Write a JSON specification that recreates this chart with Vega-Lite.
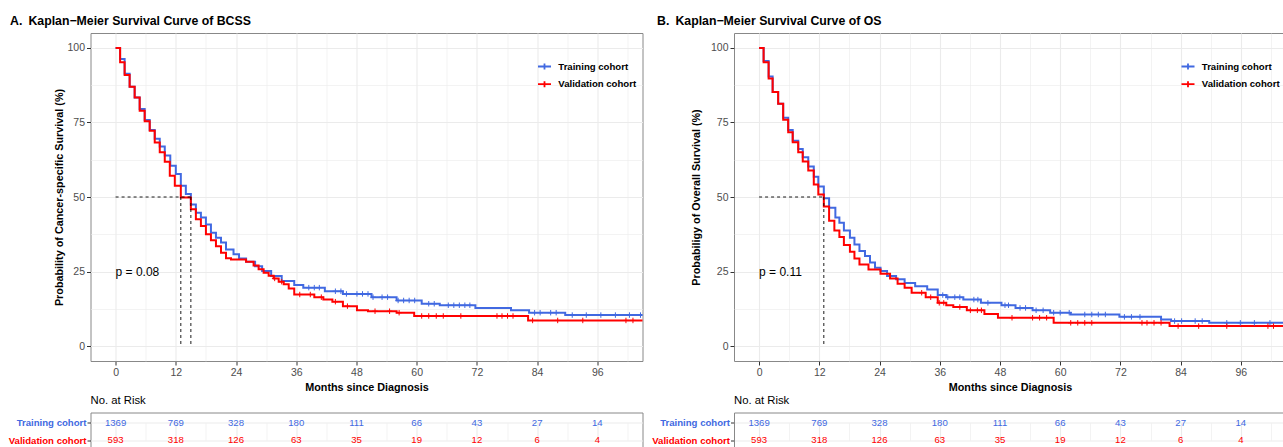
{
"$schema": "https://vega.github.io/schema/vega-lite/v6.json",
"background": "white",
"padding": {"left": 7.5, "top": 14, "right": 0, "bottom": 0},
"config": {
  "font": "Liberation Sans",
  "view": {"stroke": "#888888", "strokeWidth": 1},
  "axis": {"labelFont": "Liberation Sans", "labelFontSize": 10.5, "labelColor": "#4D4D4D", "titleFont": "Liberation Sans", "titleFontSize": 10.8, "titleFontWeight": "bold", "titleColor": "#000000", "tickColor": "#333333", "tickSize": 4, "labelPadding": 2, "domain": false, "gridColor": "#EBEBEB"},
  "title": {"font": "Liberation Sans", "fontSize": 12.3, "fontWeight": "bold", "color": "#000000"},
  "legend": {"labelFont": "Liberation Sans", "labelFontSize": 9.6, "labelFontWeight": "bold", "labelColor": "#000000", "padding": 0, "rowPadding": 2.7, "labelOffset": 6.3}
},
"datasets": {
  "curves": [
    {"p":"A","c":"Training cohort","t":0,"s":100},{"p":"A","c":"Training cohort","t":0.9,"s":96.3},{"p":"A","c":"Training cohort","t":1.8,"s":91.3},{"p":"A","c":"Training cohort","t":2.8,"s":87.0},{"p":"A","c":"Training cohort","t":3.8,"s":83.4},{"p":"A","c":"Training cohort","t":4.8,"s":79.5},{"p":"A","c":"Training cohort","t":5.8,"s":75.8},{"p":"A","c":"Training cohort","t":6.8,"s":72.5},{"p":"A","c":"Training cohort","t":7.8,"s":69.5},{"p":"A","c":"Training cohort","t":8.8,"s":66.9},{"p":"A","c":"Training cohort","t":9.8,"s":63.9},{"p":"A","c":"Training cohort","t":10.9,"s":60.5},{"p":"A","c":"Training cohort","t":12,"s":57.7},{"p":"A","c":"Training cohort","t":13,"s":53.8},{"p":"A","c":"Training cohort","t":14,"s":51.0},{"p":"A","c":"Training cohort","t":15,"s":47.5},{"p":"A","c":"Training cohort","t":16,"s":44.7},{"p":"A","c":"Training cohort","t":17,"s":43.1},{"p":"A","c":"Training cohort","t":18,"s":40.8},{"p":"A","c":"Training cohort","t":19,"s":38.0},{"p":"A","c":"Training cohort","t":20,"s":36.3},{"p":"A","c":"Training cohort","t":21,"s":34.7},{"p":"A","c":"Training cohort","t":22,"s":32.4},{"p":"A","c":"Training cohort","t":23.5,"s":30.8},{"p":"A","c":"Training cohort","t":24.6,"s":29.4},{"p":"A","c":"Training cohort","t":26,"s":28.3},{"p":"A","c":"Training cohort","t":27.8,"s":26.8},{"p":"A","c":"Training cohort","t":29.2,"s":25.2},{"p":"A","c":"Training cohort","t":31,"s":23.5},{"p":"A","c":"Training cohort","t":33.1,"s":21.8},{"p":"A","c":"Training cohort","t":35.6,"s":20.5},{"p":"A","c":"Training cohort","t":37.4,"s":19.6},{"p":"A","c":"Training cohort","t":41.7,"s":18.4},{"p":"A","c":"Training cohort","t":45.3,"s":17.5},{"p":"A","c":"Training cohort","t":51,"s":16.4},{"p":"A","c":"Training cohort","t":56,"s":15.3},{"p":"A","c":"Training cohort","t":61,"s":14.2},{"p":"A","c":"Training cohort","t":64.6,"s":13.7},{"p":"A","c":"Training cohort","t":71.7,"s":12.8},{"p":"A","c":"Training cohort","t":78.8,"s":12.0},{"p":"A","c":"Training cohort","t":82.4,"s":11.2},{"p":"A","c":"Training cohort","t":89.6,"s":10.4},{"p":"A","c":"Training cohort","t":108,"s":10.4},
    {"p":"A","c":"Validation cohort","t":0,"s":100},{"p":"A","c":"Validation cohort","t":0.9,"s":95.2},{"p":"A","c":"Validation cohort","t":1.8,"s":90.9},{"p":"A","c":"Validation cohort","t":2.8,"s":87.0},{"p":"A","c":"Validation cohort","t":3.8,"s":83.4},{"p":"A","c":"Validation cohort","t":4.8,"s":78.9},{"p":"A","c":"Validation cohort","t":5.8,"s":75.4},{"p":"A","c":"Validation cohort","t":6.8,"s":72.2},{"p":"A","c":"Validation cohort","t":7.8,"s":68.3},{"p":"A","c":"Validation cohort","t":8.8,"s":65.0},{"p":"A","c":"Validation cohort","t":9.8,"s":61.8},{"p":"A","c":"Validation cohort","t":10.8,"s":57.1},{"p":"A","c":"Validation cohort","t":11.8,"s":53.8},{"p":"A","c":"Validation cohort","t":13,"s":49.8},{"p":"A","c":"Validation cohort","t":15,"s":45.9},{"p":"A","c":"Validation cohort","t":16,"s":42.5},{"p":"A","c":"Validation cohort","t":17,"s":40.3},{"p":"A","c":"Validation cohort","t":18,"s":37.5},{"p":"A","c":"Validation cohort","t":19,"s":35.5},{"p":"A","c":"Validation cohort","t":20,"s":33.5},{"p":"A","c":"Validation cohort","t":21,"s":31.3},{"p":"A","c":"Validation cohort","t":22,"s":29.5},{"p":"A","c":"Validation cohort","t":23,"s":29.0},{"p":"A","c":"Validation cohort","t":26,"s":28.3},{"p":"A","c":"Validation cohort","t":27.5,"s":27.0},{"p":"A","c":"Validation cohort","t":28.5,"s":25.8},{"p":"A","c":"Validation cohort","t":29.5,"s":24.6},{"p":"A","c":"Validation cohort","t":30.5,"s":23.6},{"p":"A","c":"Validation cohort","t":31.5,"s":22.7},{"p":"A","c":"Validation cohort","t":32.5,"s":21.6},{"p":"A","c":"Validation cohort","t":33.5,"s":20.7},{"p":"A","c":"Validation cohort","t":34.5,"s":19.3},{"p":"A","c":"Validation cohort","t":35.6,"s":17.3},{"p":"A","c":"Validation cohort","t":39.6,"s":16.4},{"p":"A","c":"Validation cohort","t":41.4,"s":15.6},{"p":"A","c":"Validation cohort","t":43.2,"s":14.9},{"p":"A","c":"Validation cohort","t":45.3,"s":13.4},{"p":"A","c":"Validation cohort","t":48.1,"s":12.0},{"p":"A","c":"Validation cohort","t":50.3,"s":11.7},{"p":"A","c":"Validation cohort","t":56,"s":11.2},{"p":"A","c":"Validation cohort","t":59.5,"s":10.1},{"p":"A","c":"Validation cohort","t":82.2,"s":8.6},{"p":"A","c":"Validation cohort","t":108,"s":8.6},
    {"p":"B","c":"Training cohort","t":0,"s":100},{"p":"B","c":"Training cohort","t":0.9,"s":95.6},{"p":"B","c":"Training cohort","t":1.9,"s":90.4},{"p":"B","c":"Training cohort","t":2.7,"s":85.2},{"p":"B","c":"Training cohort","t":3.8,"s":81.3},{"p":"B","c":"Training cohort","t":4.8,"s":76.6},{"p":"B","c":"Training cohort","t":5.8,"s":72.5},{"p":"B","c":"Training cohort","t":6.7,"s":68.9},{"p":"B","c":"Training cohort","t":7.8,"s":66.1},{"p":"B","c":"Training cohort","t":8.7,"s":63.3},{"p":"B","c":"Training cohort","t":9.8,"s":60.2},{"p":"B","c":"Training cohort","t":10.9,"s":56.8},{"p":"B","c":"Training cohort","t":11.8,"s":53.5},{"p":"B","c":"Training cohort","t":12.9,"s":49.6},{"p":"B","c":"Training cohort","t":13.95,"s":46.4},{"p":"B","c":"Training cohort","t":15.2,"s":43.1},{"p":"B","c":"Training cohort","t":16,"s":41.4},{"p":"B","c":"Training cohort","t":16.9,"s":38.8},{"p":"B","c":"Training cohort","t":18.1,"s":36.3},{"p":"B","c":"Training cohort","t":19,"s":34.1},{"p":"B","c":"Training cohort","t":20,"s":31.9},{"p":"B","c":"Training cohort","t":21.1,"s":30.2},{"p":"B","c":"Training cohort","t":22.1,"s":28.0},{"p":"B","c":"Training cohort","t":23.1,"s":26.3},{"p":"B","c":"Training cohort","t":24.2,"s":25.2},{"p":"B","c":"Training cohort","t":25.5,"s":23.5},{"p":"B","c":"Training cohort","t":27.3,"s":22.4},{"p":"B","c":"Training cohort","t":29,"s":21.2},{"p":"B","c":"Training cohort","t":31.1,"s":20.1},{"p":"B","c":"Training cohort","t":33.5,"s":19.0},{"p":"B","c":"Training cohort","t":35.6,"s":17.1},{"p":"B","c":"Training cohort","t":37.3,"s":16.4},{"p":"B","c":"Training cohort","t":40.7,"s":15.6},{"p":"B","c":"Training cohort","t":44.2,"s":14.5},{"p":"B","c":"Training cohort","t":48.3,"s":13.7},{"p":"B","c":"Training cohort","t":51.1,"s":12.8},{"p":"B","c":"Training cohort","t":54.5,"s":12.0},{"p":"B","c":"Training cohort","t":58,"s":11.2},{"p":"B","c":"Training cohort","t":62.1,"s":10.6},{"p":"B","c":"Training cohort","t":71.8,"s":9.8},{"p":"B","c":"Training cohort","t":80.1,"s":8.9},{"p":"B","c":"Training cohort","t":82.1,"s":8.4},{"p":"B","c":"Training cohort","t":89.7,"s":7.8},{"p":"B","c":"Training cohort","t":108,"s":7.8},
    {"p":"B","c":"Validation cohort","t":0,"s":100},{"p":"B","c":"Validation cohort","t":0.9,"s":95.2},{"p":"B","c":"Validation cohort","t":1.9,"s":89.7},{"p":"B","c":"Validation cohort","t":2.7,"s":85.2},{"p":"B","c":"Validation cohort","t":3.8,"s":81.3},{"p":"B","c":"Validation cohort","t":4.8,"s":75.9},{"p":"B","c":"Validation cohort","t":5.8,"s":71.7},{"p":"B","c":"Validation cohort","t":6.7,"s":68.4},{"p":"B","c":"Validation cohort","t":7.8,"s":65.0},{"p":"B","c":"Validation cohort","t":8.7,"s":61.9},{"p":"B","c":"Validation cohort","t":9.8,"s":58.9},{"p":"B","c":"Validation cohort","t":10.9,"s":54.2},{"p":"B","c":"Validation cohort","t":11.8,"s":50.8},{"p":"B","c":"Validation cohort","t":12.9,"s":46.8},{"p":"B","c":"Validation cohort","t":13.95,"s":42.0},{"p":"B","c":"Validation cohort","t":15,"s":38.8},{"p":"B","c":"Validation cohort","t":16,"s":36.6},{"p":"B","c":"Validation cohort","t":16.9,"s":33.9},{"p":"B","c":"Validation cohort","t":18.1,"s":31.6},{"p":"B","c":"Validation cohort","t":19,"s":29.4},{"p":"B","c":"Validation cohort","t":20,"s":27.4},{"p":"B","c":"Validation cohort","t":21.8,"s":25.7},{"p":"B","c":"Validation cohort","t":24.2,"s":24.3},{"p":"B","c":"Validation cohort","t":26.1,"s":22.7},{"p":"B","c":"Validation cohort","t":27.6,"s":20.9},{"p":"B","c":"Validation cohort","t":29,"s":19.6},{"p":"B","c":"Validation cohort","t":30.4,"s":17.9},{"p":"B","c":"Validation cohort","t":33.2,"s":16.4},{"p":"B","c":"Validation cohort","t":35.6,"s":14.5},{"p":"B","c":"Validation cohort","t":37.3,"s":13.7},{"p":"B","c":"Validation cohort","t":38.7,"s":13.1},{"p":"B","c":"Validation cohort","t":41.4,"s":12.0},{"p":"B","c":"Validation cohort","t":44.9,"s":10.8},{"p":"B","c":"Validation cohort","t":47.6,"s":9.5},{"p":"B","c":"Validation cohort","t":58.7,"s":7.8},{"p":"B","c":"Validation cohort","t":81.8,"s":6.7},{"p":"B","c":"Validation cohort","t":108,"s":6.7}
  ],
  "censor": [
    {"p":"A","c":"Training cohort","t":38.5,"s":19.6},{"p":"A","c":"Training cohort","t":39.6,"s":19.6},{"p":"A","c":"Training cohort","t":40.6,"s":19.6},{"p":"A","c":"Training cohort","t":43.8,"s":18.4},{"p":"A","c":"Training cohort","t":44.9,"s":18.4},{"p":"A","c":"Training cohort","t":46.0,"s":17.5},{"p":"A","c":"Training cohort","t":48.1,"s":17.5},{"p":"A","c":"Training cohort","t":49.2,"s":17.5},{"p":"A","c":"Training cohort","t":50.3,"s":17.5},{"p":"A","c":"Training cohort","t":51.3,"s":16.4},{"p":"A","c":"Training cohort","t":53.1,"s":16.4},{"p":"A","c":"Training cohort","t":54.2,"s":16.4},{"p":"A","c":"Training cohort","t":56.3,"s":15.3},{"p":"A","c":"Training cohort","t":57.4,"s":15.3},{"p":"A","c":"Training cohort","t":58.5,"s":15.3},{"p":"A","c":"Training cohort","t":59.6,"s":15.3},{"p":"A","c":"Training cohort","t":62.4,"s":14.2},{"p":"A","c":"Training cohort","t":63.5,"s":14.2},{"p":"A","c":"Training cohort","t":66.3,"s":13.7},{"p":"A","c":"Training cohort","t":67.4,"s":13.7},{"p":"A","c":"Training cohort","t":68.5,"s":13.7},{"p":"A","c":"Training cohort","t":69.6,"s":13.7},{"p":"A","c":"Training cohort","t":70.6,"s":13.7},{"p":"A","c":"Training cohort","t":83.5,"s":11.2},{"p":"A","c":"Training cohort","t":84.6,"s":11.2},{"p":"A","c":"Training cohort","t":86.7,"s":11.2},{"p":"A","c":"Training cohort","t":87.8,"s":11.2},{"p":"A","c":"Training cohort","t":91.0,"s":10.4},{"p":"A","c":"Training cohort","t":93.8,"s":10.4},{"p":"A","c":"Training cohort","t":96.7,"s":10.4},{"p":"A","c":"Training cohort","t":99.6,"s":10.4},{"p":"A","c":"Training cohort","t":102.4,"s":10.4},{"p":"A","c":"Training cohort","t":104.6,"s":10.4},
    {"p":"A","c":"Validation cohort","t":31.7,"s":22.7},{"p":"A","c":"Validation cohort","t":33.1,"s":21.6},{"p":"A","c":"Validation cohort","t":36.7,"s":17.3},{"p":"A","c":"Validation cohort","t":38.8,"s":17.3},{"p":"A","c":"Validation cohort","t":41.0,"s":16.4},{"p":"A","c":"Validation cohort","t":43.8,"s":14.9},{"p":"A","c":"Validation cohort","t":46.2,"s":13.4},{"p":"A","c":"Validation cohort","t":51.7,"s":11.7},{"p":"A","c":"Validation cohort","t":54.6,"s":11.7},{"p":"A","c":"Validation cohort","t":56.5,"s":11.2},{"p":"A","c":"Validation cohort","t":61.0,"s":10.1},{"p":"A","c":"Validation cohort","t":62.4,"s":10.1},{"p":"A","c":"Validation cohort","t":63.9,"s":10.1},{"p":"A","c":"Validation cohort","t":65.3,"s":10.1},{"p":"A","c":"Validation cohort","t":68.8,"s":10.1},{"p":"A","c":"Validation cohort","t":76.0,"s":10.1},{"p":"A","c":"Validation cohort","t":77.0,"s":10.1},{"p":"A","c":"Validation cohort","t":78.1,"s":10.1},{"p":"A","c":"Validation cohort","t":79.2,"s":10.1},{"p":"A","c":"Validation cohort","t":83.1,"s":8.6},{"p":"A","c":"Validation cohort","t":88.1,"s":8.6},{"p":"A","c":"Validation cohort","t":93.1,"s":8.6},{"p":"A","c":"Validation cohort","t":101.7,"s":8.6},{"p":"A","c":"Validation cohort","t":103.1,"s":8.6},
    {"p":"B","c":"Training cohort","t":36.6,"s":17.1},{"p":"B","c":"Training cohort","t":37.6,"s":16.4},{"p":"B","c":"Training cohort","t":39.0,"s":16.4},{"p":"B","c":"Training cohort","t":40.0,"s":16.4},{"p":"B","c":"Training cohort","t":42.8,"s":15.6},{"p":"B","c":"Training cohort","t":43.6,"s":15.6},{"p":"B","c":"Training cohort","t":45.6,"s":14.5},{"p":"B","c":"Training cohort","t":49.0,"s":13.7},{"p":"B","c":"Training cohort","t":49.7,"s":13.7},{"p":"B","c":"Training cohort","t":52.0,"s":12.8},{"p":"B","c":"Training cohort","t":53.1,"s":12.8},{"p":"B","c":"Training cohort","t":55.2,"s":12.0},{"p":"B","c":"Training cohort","t":56.6,"s":12.0},{"p":"B","c":"Training cohort","t":58.7,"s":11.2},{"p":"B","c":"Training cohort","t":60.0,"s":11.2},{"p":"B","c":"Training cohort","t":61.8,"s":11.2},{"p":"B","c":"Training cohort","t":64.9,"s":10.6},{"p":"B","c":"Training cohort","t":66.3,"s":10.6},{"p":"B","c":"Training cohort","t":67.6,"s":10.6},{"p":"B","c":"Training cohort","t":69.0,"s":10.6},{"p":"B","c":"Training cohort","t":72.8,"s":9.8},{"p":"B","c":"Training cohort","t":74.2,"s":9.8},{"p":"B","c":"Training cohort","t":75.9,"s":9.8},{"p":"B","c":"Training cohort","t":82.8,"s":8.4},{"p":"B","c":"Training cohort","t":84.2,"s":8.4},{"p":"B","c":"Training cohort","t":86.9,"s":8.4},{"p":"B","c":"Training cohort","t":88.3,"s":8.4},{"p":"B","c":"Training cohort","t":93.2,"s":7.8},{"p":"B","c":"Training cohort","t":95.9,"s":7.8},{"p":"B","c":"Training cohort","t":98.7,"s":7.8},{"p":"B","c":"Training cohort","t":101.8,"s":7.8},
    {"p":"B","c":"Validation cohort","t":32.4,"s":17.9},{"p":"B","c":"Validation cohort","t":34.2,"s":16.4},{"p":"B","c":"Validation cohort","t":35.9,"s":14.5},{"p":"B","c":"Validation cohort","t":36.8,"s":14.5},{"p":"B","c":"Validation cohort","t":40.0,"s":13.1},{"p":"B","c":"Validation cohort","t":42.1,"s":12.0},{"p":"B","c":"Validation cohort","t":43.5,"s":12.0},{"p":"B","c":"Validation cohort","t":44.3,"s":12.0},{"p":"B","c":"Validation cohort","t":50.4,"s":9.5},{"p":"B","c":"Validation cohort","t":54.5,"s":9.5},{"p":"B","c":"Validation cohort","t":55.9,"s":9.5},{"p":"B","c":"Validation cohort","t":57.3,"s":9.5},{"p":"B","c":"Validation cohort","t":62.1,"s":7.8},{"p":"B","c":"Validation cohort","t":63.5,"s":7.8},{"p":"B","c":"Validation cohort","t":64.9,"s":7.8},{"p":"B","c":"Validation cohort","t":66.3,"s":7.8},{"p":"B","c":"Validation cohort","t":76.3,"s":7.8},{"p":"B","c":"Validation cohort","t":77.3,"s":7.8},{"p":"B","c":"Validation cohort","t":78.7,"s":7.8},{"p":"B","c":"Validation cohort","t":80.1,"s":7.8},{"p":"B","c":"Validation cohort","t":83.5,"s":6.7},{"p":"B","c":"Validation cohort","t":87.6,"s":6.7},{"p":"B","c":"Validation cohort","t":93.2,"s":6.7},{"p":"B","c":"Validation cohort","t":101.4,"s":6.7},{"p":"B","c":"Validation cohort","t":102.5,"s":6.7}
  ],
  "medians": [
    {"p":"A","t":0,"t2":15,"s":50,"s2":50},{"p":"A","t":13,"t2":13,"s":50,"s2":0},{"p":"A","t":15,"t2":15,"s":50,"s2":0},
    {"p":"B","t":0,"t2":12.9,"s":50,"s2":50},{"p":"B","t":12.9,"t2":12.9,"s":50,"s2":0}
  ],
  "pvals": [
    {"p":"A","t":0,"s":25,"label":"p = 0.08"},
    {"p":"B","t":0,"s":25,"label":"p = 0.11"}
  ],
  "risk": [
    {"c":"Training cohort","t":0,"n":1369},{"c":"Training cohort","t":12,"n":769},{"c":"Training cohort","t":24,"n":328},{"c":"Training cohort","t":36,"n":180},{"c":"Training cohort","t":48,"n":111},{"c":"Training cohort","t":60,"n":66},{"c":"Training cohort","t":72,"n":43},{"c":"Training cohort","t":84,"n":27},{"c":"Training cohort","t":96,"n":14},
    {"c":"Validation cohort","t":0,"n":593},{"c":"Validation cohort","t":12,"n":318},{"c":"Validation cohort","t":24,"n":126},{"c":"Validation cohort","t":36,"n":63},{"c":"Validation cohort","t":48,"n":35},{"c":"Validation cohort","t":60,"n":19},{"c":"Validation cohort","t":72,"n":12},{"c":"Validation cohort","t":84,"n":6},{"c":"Validation cohort","t":96,"n":4}
  ]
},
"resolve": {"scale": {"color": "independent"}},
"spacing": 7.5,
"hconcat": [
  {
    "resolve": {"scale": {"color": "independent"}},
    "spacing": 1.5,
    "vconcat": [
      {
        "width": 552, "height": 328,
        "title": {"text": "A.\u2002Kaplan\u2212Meier Survival Curve of BCSS", "anchor": "start", "frame": "group", "dx": -80.5, "offset": 6},
        "encoding": {
          "x": {"field": "t", "type": "quantitative", "scale": {"domain": [-5, 105], "nice": false, "zero": false},
                "axis": {"title": "Months since Diagnosis", "values": [0,6,12,18,24,30,36,42,48,54,60,66,72,78,84,90,96,102], "labelExpr": "datum.value % 12 === 0 ? format(datum.value, 'd') : ''", "tickOpacity": {"condition": {"test": "datum.value % 12 !== 0", "value": 0}, "value": 1}, "gridWidth": {"condition": {"test": "datum.value % 12 !== 0", "value": 0.6}, "value": 1.1}, "titlePadding": 4}},
          "y": {"field": "s", "type": "quantitative", "scale": {"domain": [-5, 105], "nice": false, "zero": false},
                "axis": {"title": "Probability of Cancer-specific Survival (%)", "values": [0,12.5,25,37.5,50,62.5,75,87.5,100], "labelExpr": "datum.value % 25 === 0 ? format(datum.value, 'd') : ''", "tickOpacity": {"condition": {"test": "datum.value % 25 !== 0", "value": 0}, "value": 1}, "gridWidth": {"condition": {"test": "datum.value % 25 !== 0", "value": 0.6}, "value": 1.1}, "titlePadding": 2}}
        },
        "layer": [
          {"data": {"name": "curves"}, "transform": [{"filter": "datum.p === 'A'"}],
           "mark": {"type": "line", "interpolate": "step-after", "strokeWidth": 2, "clip": true},
           "encoding": {"color": {"field": "c", "type": "nominal", "scale": {"domain": ["Training cohort", "Validation cohort"], "range": ["#4169E1", "#FF0000"]},
              "legend": {"title": null, "orient": "none", "legendX": 446.5, "legendY": 26, "symbolType": "M-1,0H1M0,-0.45V0.45", "symbolSize": 169, "symbolStrokeWidth": 1.8}}}},
          {"data": {"name": "censor"}, "transform": [{"filter": "datum.p === 'A'"}],
           "mark": {"type": "point", "shape": "M-1,0H1M0,-1V1", "filled": false, "size": 30, "strokeWidth": 1, "opacity": 1, "clip": true},
           "encoding": {"color": {"field": "c", "type": "nominal", "legend": null}}},
          {"data": {"name": "medians"}, "transform": [{"filter": "datum.p === 'A'"}],
           "mark": {"type": "rule", "strokeDash": [3, 3], "color": "#000000", "strokeWidth": 0.9},
           "encoding": {"x2": {"field": "t2"}, "y2": {"field": "s2"}}},
          {"data": {"name": "pvals"}, "transform": [{"filter": "datum.p === 'A'"}],
           "mark": {"type": "text", "align": "left", "baseline": "middle", "fontSize": 12, "color": "#000000"},
           "encoding": {"text": {"field": "label"}}}
        ]
      },
      {
        "width": 552, "height": 38,
        "title": {"text": "No. at Risk", "anchor": "start", "frame": "group", "fontSize": 11.3, "fontWeight": "normal", "offset": 6},
        "data": {"name": "risk"},
        "mark": {"type": "text", "fontSize": 9.6},
        "encoding": {
          "x": {"field": "t", "type": "quantitative", "scale": {"domain": [-5, 105], "nice": false, "zero": false},
                "axis": {"values": [0,6,12,18,24,30,36,42,48,54,60,66,72,78,84,90,96,102], "labels": false, "ticks": false, "title": null, "gridWidth": {"condition": {"test": "datum.value % 12 !== 0", "value": 0.6}, "value": 1.1}}},
          "y": {"field": "c", "type": "nominal", "scale": {"type": "point", "domain": ["Training cohort", "Validation cohort"], "range": [10.4, 27.7], "padding": 0},
                "axis": {"title": null, "grid": true, "labelFontWeight": "bold", "labelFontSize": 9.6, "labelColor": {"condition": {"test": "datum.value === 'Training cohort'", "value": "#4169E1"}, "value": "#FF0000"}, "tickSize": 3.5, "labelPadding": 1}},
          "color": {"field": "c", "type": "nominal", "scale": {"domain": ["Training cohort", "Validation cohort"], "range": ["#4169E1", "#FF0000"]}, "legend": null},
          "text": {"field": "n", "type": "quantitative", "format": "d"}
        }
      }
    ]
  },
  {
    "resolve": {"scale": {"color": "independent"}},
    "spacing": 1.5,
    "vconcat": [
      {
        "width": 552, "height": 328,
        "title": {"text": "B.\u2002Kaplan\u2212Meier Survival Curve of OS", "anchor": "start", "frame": "group", "dx": -77, "offset": 6},
        "encoding": {
          "x": {"field": "t", "type": "quantitative", "scale": {"domain": [-5, 105], "nice": false, "zero": false},
                "axis": {"title": "Months since Diagnosis", "values": [0,6,12,18,24,30,36,42,48,54,60,66,72,78,84,90,96,102], "labelExpr": "datum.value % 12 === 0 ? format(datum.value, 'd') : ''", "tickOpacity": {"condition": {"test": "datum.value % 12 !== 0", "value": 0}, "value": 1}, "gridWidth": {"condition": {"test": "datum.value % 12 !== 0", "value": 0.6}, "value": 1.1}, "titlePadding": 4}},
          "y": {"field": "s", "type": "quantitative", "scale": {"domain": [-5, 105], "nice": false, "zero": false},
                "axis": {"title": "Probabiligy of Overall Survival (%)", "values": [0,12.5,25,37.5,50,62.5,75,87.5,100], "labelExpr": "datum.value % 25 === 0 ? format(datum.value, 'd') : ''", "tickOpacity": {"condition": {"test": "datum.value % 25 !== 0", "value": 0}, "value": 1}, "gridWidth": {"condition": {"test": "datum.value % 25 !== 0", "value": 0.6}, "value": 1.1}, "titlePadding": 9}}
        },
        "layer": [
          {"data": {"name": "curves"}, "transform": [{"filter": "datum.p === 'B'"}],
           "mark": {"type": "line", "interpolate": "step-after", "strokeWidth": 2, "clip": true},
           "encoding": {"color": {"field": "c", "type": "nominal", "scale": {"domain": ["Training cohort", "Validation cohort"], "range": ["#4169E1", "#FF0000"]},
              "legend": {"title": null, "orient": "none", "legendX": 446.5, "legendY": 26, "symbolType": "M-1,0H1M0,-0.45V0.45", "symbolSize": 169, "symbolStrokeWidth": 1.8}}}},
          {"data": {"name": "censor"}, "transform": [{"filter": "datum.p === 'B'"}],
           "mark": {"type": "point", "shape": "M-1,0H1M0,-1V1", "filled": false, "size": 30, "strokeWidth": 1, "opacity": 1, "clip": true},
           "encoding": {"color": {"field": "c", "type": "nominal", "legend": null}}},
          {"data": {"name": "medians"}, "transform": [{"filter": "datum.p === 'B'"}],
           "mark": {"type": "rule", "strokeDash": [3, 3], "color": "#000000", "strokeWidth": 0.9},
           "encoding": {"x2": {"field": "t2"}, "y2": {"field": "s2"}}},
          {"data": {"name": "pvals"}, "transform": [{"filter": "datum.p === 'B'"}],
           "mark": {"type": "text", "align": "left", "baseline": "middle", "fontSize": 12, "color": "#000000"},
           "encoding": {"text": {"field": "label"}}}
        ]
      },
      {
        "width": 552, "height": 38,
        "title": {"text": "No. at Risk", "anchor": "start", "frame": "group", "fontSize": 11.3, "fontWeight": "normal", "offset": 6},
        "data": {"name": "risk"},
        "mark": {"type": "text", "fontSize": 9.6},
        "encoding": {
          "x": {"field": "t", "type": "quantitative", "scale": {"domain": [-5, 105], "nice": false, "zero": false},
                "axis": {"values": [0,6,12,18,24,30,36,42,48,54,60,66,72,78,84,90,96,102], "labels": false, "ticks": false, "title": null, "gridWidth": {"condition": {"test": "datum.value % 12 !== 0", "value": 0.6}, "value": 1.1}}},
          "y": {"field": "c", "type": "nominal", "scale": {"type": "point", "domain": ["Training cohort", "Validation cohort"], "range": [10.4, 27.7], "padding": 0},
                "axis": {"title": null, "grid": true, "labelFontWeight": "bold", "labelFontSize": 9.6, "labelColor": {"condition": {"test": "datum.value === 'Training cohort'", "value": "#4169E1"}, "value": "#FF0000"}, "tickSize": 3.5, "labelPadding": 1}},
          "color": {"field": "c", "type": "nominal", "scale": {"domain": ["Training cohort", "Validation cohort"], "range": ["#4169E1", "#FF0000"]}, "legend": null},
          "text": {"field": "n", "type": "quantitative", "format": "d"}
        }
      }
    ]
  }
]
}
